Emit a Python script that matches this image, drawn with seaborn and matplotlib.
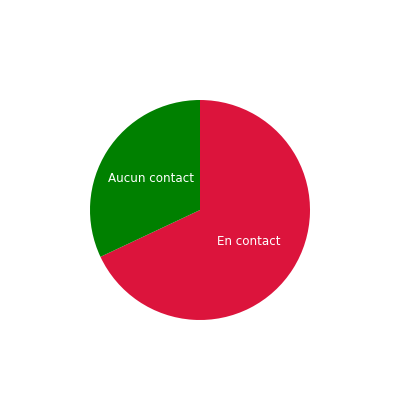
import matplotlib
matplotlib.use("Agg")
import matplotlib.pyplot as plt
import seaborn as sns

# Données du graphique
categories = ["En contact", "Aucun contact"]
valeurs = [68, 32]
couleurs = ["#DC143C", "#008000"]

sns.set_theme(style="white")
plt.rcParams['font.family'] = ['DejaVu Sans']

fig = plt.figure(figsize=(4, 4), dpi=100)
ax = fig.add_axes([0.225, 0.2, 0.55, 0.55])

wedges, textes = ax.pie(
    valeurs,
    labels=categories,
    colors=couleurs,
    startangle=90,
    counterclock=False,
    labeldistance=0.53,
    radius=1,
    wedgeprops=dict(linewidth=0),
    textprops=dict(color="white", fontsize=8.6, ha="center", va="center"),
)
for t in textes:
    t.set_horizontalalignment("center")

ax.set_xlim(-1, 1)
ax.set_ylim(-1, 1)
ax.set_aspect("equal")
ax.axis("off")

fig.savefig("out.png", dpi=100, facecolor="white")
